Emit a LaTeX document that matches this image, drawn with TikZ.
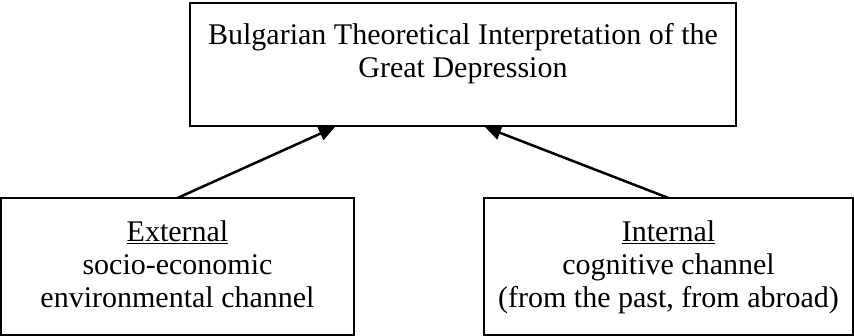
\documentclass[tikz,border=0pt]{standalone}
\usepackage{fontspec}
\setmainfont{Liberation Serif}
\usetikzlibrary{arrows.meta}
\begin{document}
\begin{tikzpicture}[x=1pt,y=-1pt,
  box/.style={draw, line width=1.5pt, inner sep=0pt, outer sep=0pt},
  lbl/.style={font=\fontsize{30}{33}\selectfont, anchor=base, inner sep=0pt},
  conn/.style={line width=2.5pt, -{Triangle[length=16pt,width=14pt]}}]
\useasboundingbox (0,0) rectangle (854,336);
\node[box, minimum width=546pt, minimum height=123pt] (top) at (463,64.5) {};
\node[box, minimum width=353pt, minimum height=137pt] (left) at (177.5,266.5) {};
\node[box, minimum width=369pt, minimum height=137pt] (right) at (668.5,266.5) {};
\node[lbl] (t1) at (463,45) {Bulgarian Theoretical Interpretation of the};
\node[lbl] (t2) at (463,78) {Great Depression};
\node[lbl] (l1) at (177.5,242) {\underline{External}};
\node[lbl] (l2) at (177.5,275) {socio-economic};
\node[lbl] (l3) at (177.5,308) {environmental channel};
\node[lbl] (r1) at (668.5,242) {\underline{Internal}};
\node[lbl] (r2) at (668.5,275) {cognitive channel};
\node[lbl] (r3) at (668.5,308) {(from the past, from abroad)};
\coordinate (a1) at (335,127);
\coordinate (a2) at (485,127);
\draw[conn] (left.north) -- (a1);
\draw[conn] (right.north) -- (a2);
\end{tikzpicture}
\end{document}
